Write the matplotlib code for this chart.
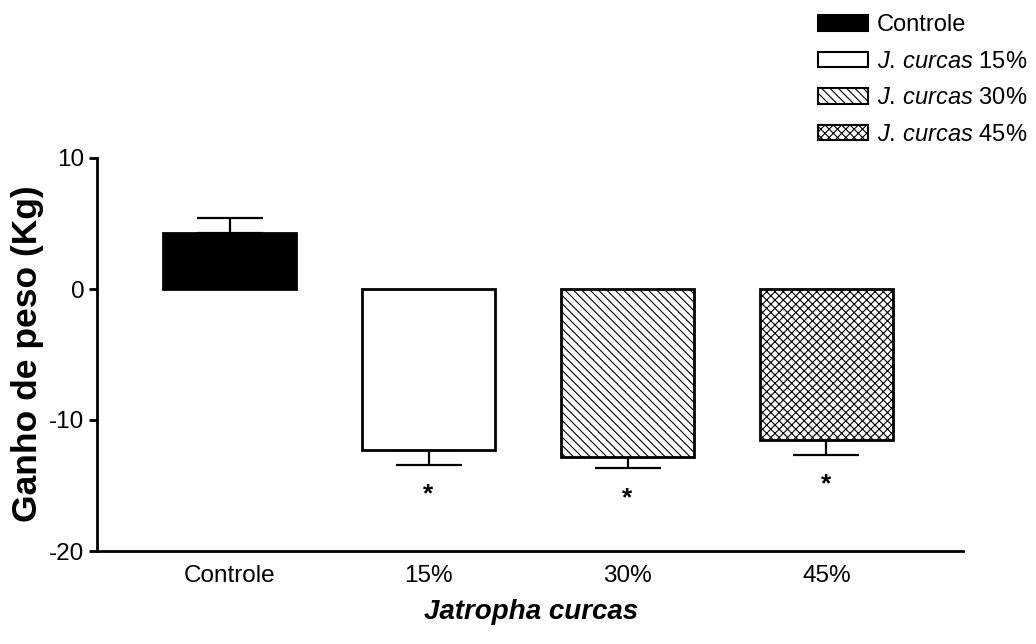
import matplotlib
matplotlib.use("Agg")
import matplotlib.pyplot as plt
from matplotlib.patches import Patch

plt.rcParams['font.family'] = ['Liberation Sans', 'DejaVu Sans']
plt.rcParams['mathtext.fontset'] = 'custom'
plt.rcParams['mathtext.it'] = 'Liberation Sans:italic'
plt.rcParams['mathtext.rm'] = 'Liberation Sans'
plt.rcParams['hatch.linewidth'] = 0.8

# ---- data ----
categories = ['Controle', '15%', '30%', '45%']
means = [4.3, -12.3, -12.85, -11.55]
errors = [1.15, 1.1, 0.85, 1.1]
significant = [False, True, True, True]
legend_labels = ['Controle', r'$\mathit{J.\,curcas}$ 15%',
                 r'$\mathit{J.\,curcas}$ 30%', r'$\mathit{J.\,curcas}$ 45%']
facecolors = ['black', 'white', 'white', 'white']
hatches = ['', '', '\\\\\\\\', 'xxxx']
yticks = [10, 0, -10, -20]
ylabel = 'Ganho de peso (Kg)'
xlabel = 'Jatropha curcas'

fig = plt.figure(figsize=(10.36, 6.44), dpi=100)
ax = fig.add_axes([97/1036, 1-551/644, 866/1036, 393/644])

x = list(range(len(categories)))
ax.bar(x, means, width=0.67, color=facecolors, edgecolor='black',
       linewidth=2, hatch=hatches, zorder=2)

lower = [e if m < 0 else 0 for m, e in zip(means, errors)]
upper = [e if m >= 0 else 0 for m, e in zip(means, errors)]
ax.errorbar(x, means, yerr=[lower, upper], fmt='none', ecolor='black',
            elinewidth=1.6, capsize=23.5, capthick=1.6, zorder=1)

for xi, m, e, s in zip(x, means, errors, significant):
    if s:
        ax.text(xi, m - e - 2.25, '*', ha='center', va='center',
                fontsize=19, fontweight='bold')

ax.set_xlim(-0.666, 3.686)
ax.set_ylim(-20, 10)
ax.set_yticks(yticks)
ax.set_yticklabels([str(t) for t in yticks])
ax.set_xticks(x)
ax.set_xticklabels(categories)
ax.tick_params(axis='y', direction='out', length=6, width=2, pad=3, labelsize=17.5)
ax.tick_params(axis='x', length=0, pad=10, labelsize=17.5)
for sp in ['top', 'right']:
    ax.spines[sp].set_visible(False)
for sp in ['left', 'bottom']:
    ax.spines[sp].set_linewidth(2)

fig.text(28/1036, 1-354/644, ylabel, rotation=90, ha='center', va='center',
         fontsize=25.5, fontweight='bold')
fig.text(531/1036, 1-612/644, xlabel, ha='center', va='center',
         fontsize=20, fontweight='bold', fontstyle='italic')

handles = [Patch(facecolor=fc, edgecolor='black', hatch=h, linewidth=1.5)
           for fc, h in zip(facecolors, hatches)]
fig.legend(handles, legend_labels, loc='upper left',
           bbox_to_anchor=(818/1036, 1-14/644), frameon=False,
           fontsize=17, handlelength=2.12, handleheight=0.64,
           handletextpad=0.38, labelspacing=0.62, borderpad=0,
           borderaxespad=0)

fig.savefig('out.png', dpi=100)
